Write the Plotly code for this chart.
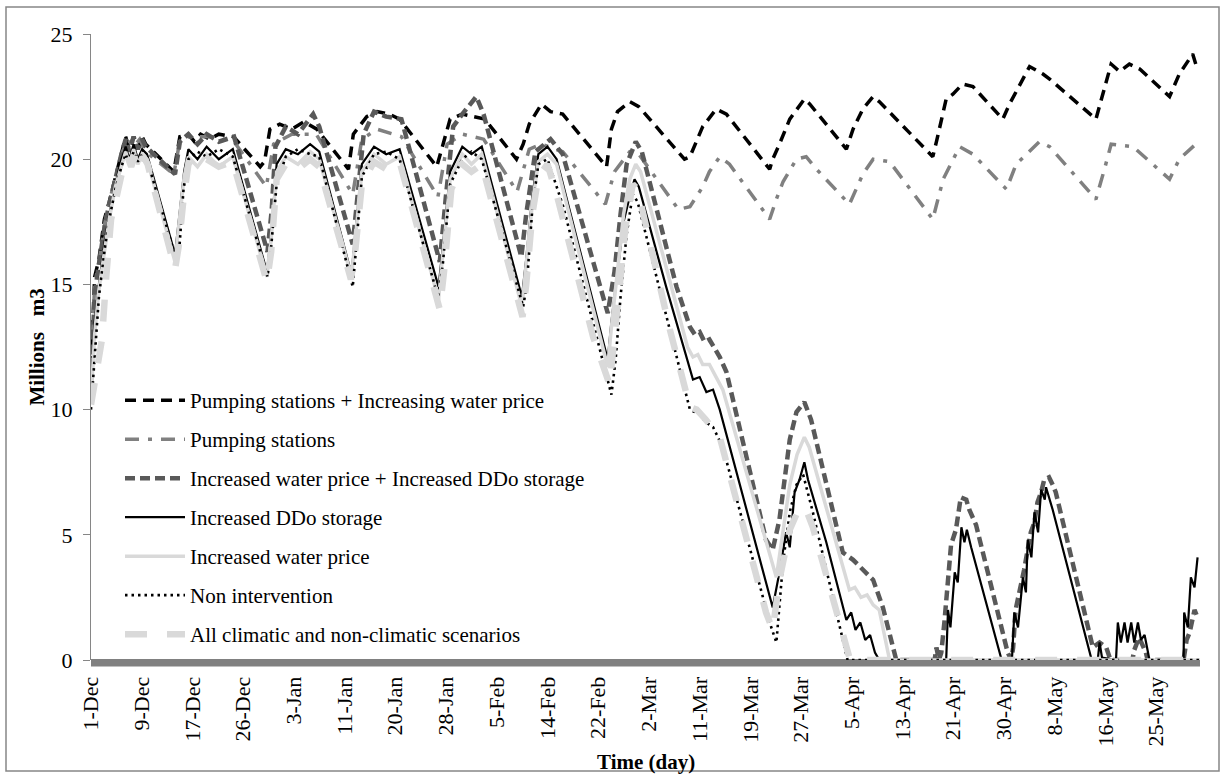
import plotly.graph_objects as go

# ---------------- data (day offset from 1-Dec, storage in million m3) ----------------
tick_labels = ["1-Dec", "9-Dec", "17-Dec", "26-Dec", "3-Jan", "11-Jan", "20-Jan", "28-Jan",
               "5-Feb", "14-Feb", "22-Feb", "2-Mar", "11-Mar", "19-Mar", "27-Mar", "5-Apr",
               "13-Apr", "21-Apr", "30-Apr", "8-May", "16-May", "25-May"]
tick_days = [k * 25 / 3 for k in range(len(tick_labels))]

s1_days = [0, 0.6, 1.3, 2.2, 3, 4, 5, 5.7, 6.3, 7, 7.7, 8.4, 9, 13.6, 14.6, 16, 17, 18, 19.5, 21, 23.4,
           27.8, 28.5, 29.4, 31, 33, 35, 37.1, 42.3, 43.1, 45.3, 47, 49, 50.7, 56.8, 58.1, 59, 61, 63,
           64.7, 69.9, 71, 72, 74, 75.5, 77.5, 84.7, 85.5, 86.5, 88.5, 90, 97.5, 98.4, 100.5, 102.7,
           104.4, 111.5, 112.0, 113.1, 114.8, 117.2, 118.1, 124.1, 125.2, 126.8, 128.5, 129.5, 138.3,
           138.9, 140.0, 140.5, 141.6, 143.2, 144.9, 149.8, 150.9, 152.5, 154.2, 156.4, 157.5, 165.1,
           166.5, 167.6, 169.0, 170.6, 172.3, 177.2, 178.8, 180.5, 181.0, 181.5]
s1_vals = [11.7, 15.3, 16.0, 17.6, 18.3, 19.3, 20.3, 20.9, 20.4, 20.9, 20.4, 20.9, 20.6, 19.5, 20.9, 21.0,
           20.7, 21.0, 20.8, 21.0, 20.9, 19.7, 19.9, 21.2, 21.4, 21.2, 21.5, 21.2, 19.6, 21.0, 21.7, 21.9,
           21.8, 21.6, 19.7, 20.9, 21.6, 21.8, 21.7, 21.6, 20.0, 20.6, 21.4, 22.2, 21.9, 21.8, 19.7, 21.2,
           21.9, 22.3, 22.1, 20.0, 20.1, 21.3, 22.0, 21.8, 19.6, 20.0, 20.6, 21.6, 22.4, 22.2, 20.4, 21.2,
           22.0, 22.5, 22.3, 20.1, 20.7, 21.9, 22.4, 22.6, 23.0, 22.9, 21.6, 22.2, 22.9, 23.7, 23.4, 23.2,
           21.6, 22.9, 23.8, 23.5, 23.8, 23.6, 22.5, 23.4, 24.0, 24.2, 23.8]

s2_days = [0, 0.6, 1.3, 2.3, 3, 4, 5, 6, 7, 8, 9, 13.6, 14.5, 16, 20, 23.5, 28.8, 30, 33, 37, 43, 44.5,
           47, 51, 57, 58.5, 61, 64.5, 70, 72, 74, 77.5, 84.5, 86, 88.5, 90, 96.5, 98.4, 100.5, 101.6,
           103.3, 104.9, 111.5, 112.6, 113.7, 115.9, 117.5, 119.2, 124.6, 126.8, 128.5, 131.2, 138.3,
           140, 142.7, 144.9, 150.4, 152, 155.8, 157.5, 165.1, 166.5, 167.6, 171.2, 177.2, 178.8, 181.5]
s2_vals = [11.5, 15.0, 15.9, 17.5, 18.3, 19.3, 20.2, 20.8, 20.5, 20.8, 20.3, 19.4, 20.6, 20.9, 20.9, 20.7,
           18.9, 20.6, 21.0, 21.0, 18.6, 20.8, 21.2, 20.9, 18.5, 20.6, 21.0, 20.8, 18.7, 20.4, 20.6, 20.3,
           18.2, 19.5, 20.3, 20.2, 18.0, 18.1, 18.9, 19.5, 20.1, 19.8, 17.6, 18.4, 19.1, 20.0, 20.1, 19.6,
           18.2, 19.4, 20.0, 19.9, 17.6, 19.2, 20.5, 20.2, 18.8, 19.8, 20.7, 20.5, 18.4, 19.6, 20.6, 20.5,
           19.2, 20.0, 20.6]

s3_days = [0, 0.6, 1.3, 2.3, 3, 4, 5, 5.7, 6.3, 7, 7.7, 8.4, 9, 13.8, 14.6, 16, 17.5, 19, 21, 23.5, 29,
           29.7, 30.3, 32, 34, 36.5, 37.5, 43, 43.8, 44.8, 46.5, 48.5, 51, 57.3, 58.3, 59.5, 61, 63.3,
           64.5, 70.7, 71.5, 73, 75.5, 77.5, 84.9, 86.0, 87.0, 88.0, 89.5, 90.5, 96.2, 98.4, 99.2, 100,
           100.8, 101.6, 103.3, 104.4, 110.9, 112.0, 113.1, 114.8, 115.9, 117.2, 118.3, 123.5, 125.2,
           126.8, 128.5, 130.1, 132.3, 138.6, 138.9, 139.3, 139.7, 140.2, 140.8, 141.3, 142.1, 142.9,
           143.8, 144.3, 145.4, 150.6, 151.2, 151.5, 151.9, 152.8, 153.3, 154.4, 155.0, 155.5, 156.1,
           156.6, 157.4, 158.0, 158.5, 164.6, 165.7, 166.8, 167.5, 171.1, 171.4, 172.2, 173.3, 173.6,
           179.5, 180.0, 180.5, 181.3, 181.8]
s3_vals = [11.0, 14.6, 15.8, 17.4, 18.2, 19.3, 20.2, 20.8, 20.3, 20.9, 20.4, 20.8, 20.5, 19.4, 20.7, 21.0,
           20.6, 21.0, 20.7, 20.9, 16.3, 18.0, 20.5, 21.3, 21.0, 21.8, 21.3, 16.6, 18.5, 21.0, 21.9, 21.7,
           21.6, 15.9, 18.5, 21.3, 21.8, 22.5, 21.8, 16.1, 17.8, 20.3, 20.8, 20.2, 13.85, 15.5, 17.8, 19.8,
           20.7, 20.3, 14.9, 13.3, 13.0, 13.1, 12.7, 12.8, 12.1, 11.5, 4.8, 4.4, 5.6, 8.8, 9.9, 10.3, 9.6,
           4.3, 4.0, 3.6, 3.2, 2.1, 0, 0, 0.5, 0, 0.3, 1.5, 3.0, 4.6, 5.2, 6.5, 6.4, 6.0, 5.4, 0.3, 0, 0.5,
           2.0, 3.0, 3.6, 5.1, 5.5, 6.3, 6.7, 7.2, 7.3, 7.0, 6.7, 0.5, 0.7, 0.5, 0, 0, 0.4, 0.9, 0.3, 0,
           0, 0.8, 1.1, 2.0, 1.7]

s4_days = [0, 0.6, 1.3, 2.3, 3, 4, 5, 5.7, 6.3, 7, 7.7, 8.4, 9.2, 13.8, 14.4, 15.3, 16, 17.5, 19, 21,
           23.3, 28.9, 29.6, 30.5, 32, 34, 36, 37.5, 42.8, 43.5, 44.5, 46.5, 48.5, 50.7, 57.1, 57.8, 59,
           61, 62.5, 64.2, 70.8, 71.5, 72.5, 73.5, 75, 76.5, 84.9, 85.5, 86.5, 87.5, 88.5, 89.3, 90, 94.5,
           98.9, 100, 101.1, 102.2, 103.3, 112.0, 113.1, 114.2, 114.8, 115.6, 116.4, 117.2, 117.8, 120.8,
           124.1, 124.9, 125.6, 126.4, 127.2, 128.0, 128.8, 129.5, 140.5, 140.8, 141.2, 141.9, 142.4,
           143.0, 143.5, 143.9, 144.6, 149.5, 149.8, 151.3, 151.7, 152.3, 153.1, 153.6, 153.9, 154.5,
           155.0, 155.6, 156.1, 156.7, 156.9, 157.5, 158.0, 164.3, 164.6, 165.4, 165.7, 166.1, 168.4,
           168.7, 169.2, 169.8, 170.3, 170.9, 171.4, 172.0, 172.5, 173.1, 173.9, 179.5, 179.6, 180.2,
           180.7, 181.3, 181.8]
s4_vals = [10.6, 13.5, 15.0, 16.8, 17.8, 19.0, 20.0, 20.5, 20.0, 20.6, 20.0, 20.4, 20.2, 16.2, 17.5, 19.5,
           20.4, 20.0, 20.5, 20.0, 20.4, 15.5, 17.0, 19.8, 20.4, 20.2, 20.6, 20.3, 15.4, 17.2, 19.8, 20.5,
           20.2, 20.4, 14.9, 16.5, 19.5, 20.5, 20.2, 20.5, 14.5, 16.0, 18.5, 20.2, 20.5, 20.0, 12.0, 13.5,
           15.5, 17.5, 18.5, 19.2, 18.9, 14.9, 11.2, 11.3, 10.7, 10.8, 10.0, 2.1, 3.5, 5.1, 4.5, 6.7, 7.2,
           7.9, 7.2, 4.7, 1.6, 1.9, 1.2, 1.5, 0.8, 1.0, 0.3, 0, 0, 2.0, 1.3, 3.5, 3.1, 5.3, 4.7, 5.2, 4.5,
           0.1, 0, 0, 1.9, 1.3, 3.3, 2.7, 4.8, 4.1, 5.9, 5.1, 6.8, 6.4, 6.9, 6.4, 6.0, 0.1, 0, 0, 0.7, 0.1,
           0, 1.5, 0.7, 1.5, 0.7, 1.5, 0.7, 1.5, 0.8, 1.0, 0, 0, 1.9, 1.3, 3.3, 2.9, 4.1]

s5_days = [0, 0.6, 1.3, 2.3, 3, 4, 5, 5.7, 6.3, 7, 7.7, 8.4, 9.2, 13.8, 14.4, 15.3, 16, 17.5, 19, 21,
           23.3, 28.9, 29.6, 30.5, 32, 34, 36, 37.5, 42.8, 43.5, 44.5, 46.5, 48.5, 50.7, 57.1, 57.8, 59,
           61, 62.5, 64.2, 70.8, 71.5, 72.5, 73.5, 75, 76.5, 84.9, 85.5, 86.5, 87.5, 88.5, 89.5, 90.3,
           98.0, 98.9, 99.7, 100.5, 101.6, 102.7, 103.8, 112.6, 113.5, 114.8, 116.0, 117.2, 118.0, 124.6,
           125.5, 126.5, 127.5, 128.5, 129.5, 131.2, 182.2]
s5_vals = [10.4, 13.0, 14.8, 16.6, 17.6, 18.9, 19.8, 20.3, 19.8, 20.4, 19.8, 20.2, 20.0, 15.9, 17.3, 19.3,
           20.1, 19.7, 20.2, 19.7, 20.1, 15.3, 16.8, 19.5, 20.1, 19.8, 20.3, 20.0, 15.3, 17.0, 19.5, 20.2,
           19.8, 20.1, 14.4, 16.2, 19.2, 20.2, 19.8, 20.2, 14.1, 15.8, 18.2, 19.9, 20.2, 19.8, 11.7, 13.3,
           15.5, 17.8, 19.2, 19.8, 19.5, 12.5, 12.1, 12.2, 11.8, 11.8, 11.3, 10.8, 3.3, 4.8, 7.0, 8.2, 8.9,
           8.5, 2.8, 2.9, 2.5, 2.6, 2.2, 2.0, 0, 0]

s6_days = [0, 0.6, 1.3, 2.3, 3, 4, 5, 5.7, 6.3, 7, 7.7, 8.4, 9.2, 14.0, 14.5, 15.2, 16, 17.5, 19, 21,
           23.3, 29.0, 29.6, 30.5, 32, 34, 36, 37.5, 43.0, 43.5, 44.5, 46.5, 48.5, 50.7, 57.0, 57.8, 59,
           61, 62.5, 64.2, 71.0, 71.6, 72.5, 73.5, 75, 77.6, 83.0, 85.5, 86.2, 87.0, 88.0, 89.0, 89.8,
           94.5, 98.4, 100.0, 101.0, 102.2, 103.8, 111.5, 112.6, 113.7, 114.8, 115.9, 117.0, 118.6,
           124.1, 124.3, 182.2]
s6_vals = [10.0, 12.0, 14.5, 16.5, 17.6, 18.8, 19.7, 20.2, 19.8, 20.3, 19.9, 20.2, 20.0, 16.0, 16.4, 18.8,
           20.0, 20.3, 20.1, 20.4, 20.1, 15.3, 16.5, 19.0, 20.1, 20.4, 20.2, 20.1, 14.9, 16.3, 19.3, 20.2,
           20.3, 20.0, 14.5, 15.8, 19.0, 20.0, 20.3, 20.0, 14.1, 15.0, 18.0, 19.8, 20.0, 18.1, 13.0, 10.6,
           12.0, 14.5, 17.0, 18.6, 18.3, 13.8, 10.0, 9.8, 9.5, 9.3, 8.5, 1.5, 0.7, 3.9, 5.9, 7.0, 7.4, 5.9,
           0.1, 0, 0]

s7_days = [0, 1, 1.8, 2.5, 3.3, 4.3, 5.3, 6, 6.6, 7.3, 8, 8.6, 9.3, 13.8, 14.4, 15.2, 16, 17.5, 19, 21,
           23.3, 28.9, 29.6, 30.5, 32, 34, 36, 37.5, 42.7, 43.4, 44.5, 46.5, 48.5, 50.7, 57.3, 58, 59.2,
           61, 62.5, 64.2, 70.9, 71.5, 72.5, 73.5, 75, 76.5, 82.5, 85.2, 85.8, 86.8, 87.8, 89.0, 89.8,
           95.1, 98.4, 99.5, 101.0, 102.0, 103.3, 110.9, 112.0, 113.1, 114.8, 116.4, 117.5, 118.6, 124.6,
           125.0, 182.2]
s7_vals = [10.2, 11.5, 12.8, 15.3, 17.6, 18.6, 19.7, 20.1, 19.7, 20.2, 19.7, 20.1, 19.8, 15.6, 16.5, 18.4,
           19.8, 19.6, 20.0, 19.7, 19.9, 15.1, 16.3, 19.2, 19.8, 19.6, 20.0, 19.7, 15.2, 16.3, 19.0, 19.9,
           19.6, 19.9, 14.0, 15.5, 18.8, 19.8, 19.5, 19.8, 13.7, 15.0, 17.8, 19.3, 19.8, 18.6, 12.9, 11.0,
           12.3, 14.8, 17.3, 19.0, 18.8, 13.2, 10.1, 10.0, 9.6, 9.3, 8.9, 1.9, 1.2, 3.2, 5.2, 6.1, 6.0, 5.3,
           0.1, 0, 0]

series_names = ["Pumping stations + Increasing water price",
                "Pumping stations",
                "Increased water price + Increased DDo storage",
                "Increased DDo storage",
                "Increased water price",
                "Non intervention",
                "All climatic and non-climatic scenarios"]

# ---------------- figure ----------------
FONT = "Liberation Serif, Times New Roman, serif"
styles = [
    dict(color="#000000", width=3.5, dash="11px,7px"),
    dict(color="#808080", width=3.5, dash="14px,9px,4px,9px"),
    dict(color="#595959", width=4.5, dash="10px,5px"),
    dict(color="#000000", width=2.2, dash="solid"),
    dict(color="#d9d9d9", width=3.5, dash="solid"),
    dict(color="#000000", width=2.6, dash="2.5px,4px"),
    dict(color="#d9d9d9", width=6.5, dash="22px,20px"),
]
data = [(s1_days, s1_vals), (s2_days, s2_vals), (s3_days, s3_vals), (s4_days, s4_vals),
        (s5_days, s5_vals), (s6_days, s6_vals), (s7_days, s7_vals)]

fig = go.Figure()
for i, ((xd, yd), name, st) in enumerate(zip(data, series_names, styles)):
    fig.add_trace(go.Scatter(x=xd, y=yd, mode="lines", name=name, line=st,
                             legendgroup=f"g{i}", hoverinfo="skip"))

W, H = 1222, 777
L, R, T, B = 91, 22, 34, 117
pw, ph = W - L - R, H - T - B

def px2x(p):
    return (p - L) / pw

def px2y(p):
    return (H - B - p) / ph

fig.update_layout(
    width=W, height=H,
    margin=dict(l=L, r=R, t=T, b=B, autoexpand=False),
    paper_bgcolor="white", plot_bgcolor="white",
    font=dict(family=FONT, size=21, color="black"),
    showlegend=True,
    legend=dict(x=px2x(120), y=px2y(380), xanchor="left", yanchor="top",
                bgcolor="rgba(0,0,0,0)", borderwidth=0, traceorder="grouped",
                tracegroupgap=8.7, itemwidth=60, font=dict(family=FONT, size=21, color="black")),
    xaxis=dict(range=[0, 182.2], showgrid=False, zeroline=False, showline=False, automargin=False,
               tickmode="array", tickvals=tick_days, ticktext=tick_labels, tickangle=-90,
               ticks="outside", ticklen=7, tickcolor="rgba(0,0,0,0)",
               tickfont=dict(family=FONT, size=22, color="black")),
    yaxis=dict(range=[0, 25], showgrid=False, zeroline=False, showline=True, automargin=False,
               linecolor="#868686", linewidth=1, ticks="outside", ticklen=7, tickcolor="#868686",
               tickvals=[0, 5, 10, 15, 20, 25], tickfont=dict(family=FONT, size=22, color="black"),
               ticklabelstandoff=6,
               title=dict(text="<b>Millions\u00a0\u00a0 m3</b>", font=dict(family=FONT, size=21, color="black"),
                          standoff=0)),
    annotations=[
        dict(text="<b>Time (day)</b>", xref="paper", yref="paper", x=0.5, y=px2y(762),
             xanchor="center", yanchor="middle", showarrow=False,
             font=dict(family=FONT, size=21, color="black")),
    ],
    shapes=[
        # thick grey category-axis bar
        dict(type="rect", xref="paper", yref="paper", x0=0, x1=1, y0=px2y(666.5), y1=px2y(659),
             fillcolor="#808080", line=dict(width=0), layer="below"),
        # chart border
        dict(type="rect", xref="paper", yref="paper", x0=px2x(6), x1=px2x(1219), y0=px2y(771), y1=px2y(7),
             line=dict(color="#868686", width=1.5), fillcolor="rgba(0,0,0,0)", layer="below"),
    ],
)

fig.write_html("out.html")
